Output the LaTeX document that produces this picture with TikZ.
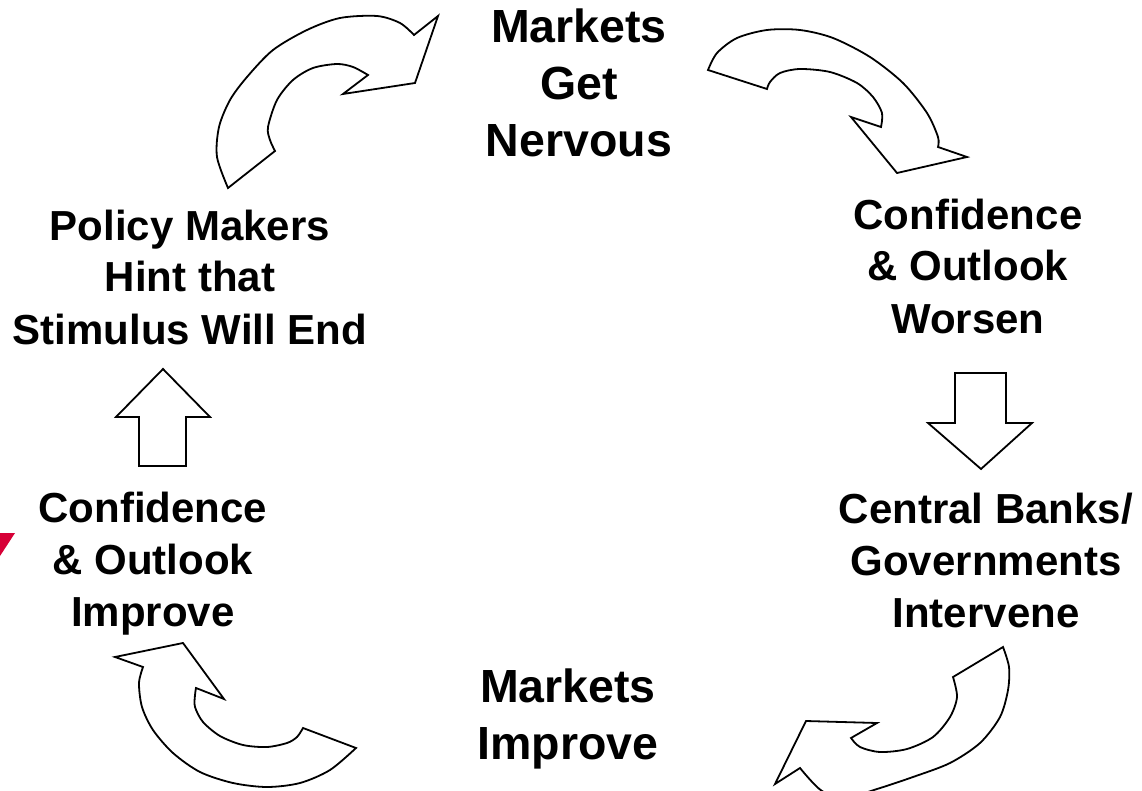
\documentclass[tikz,border=0pt]{standalone}
\usepackage{fontspec}
\setmainfont{Liberation Sans}
\usetikzlibrary{positioning}
\definecolor{deckred}{RGB}{215,0,55}

\begin{document}
\begin{tikzpicture}
     [x=1pt,y=-1pt,
      stage/.style={align=center,inner sep=0pt,anchor=base,
        font=\bfseries\fontsize{42}{52}\selectfont},
      bigstage/.style={stage,font=\bfseries\fontsize{46.5}{57}\selectfont},
      block/.style={draw=black,line width=1.8pt,line join=miter,fill=white}]
   \clip (0,0) rectangle (1142,791);
   \fill[white] (0,0) rectangle (1142,791);
   % the six stages of the cycle (placed at the baseline of the last line)
   \node (NERV) [bigstage] at (579,157) {Markets\\Get\\Nervous};
   \node (WORS) [stage] at (968,333) {Confidence\\\& Outlook\\Worsen};
   \node (INTV) [stage] at (986,627) {Central Banks/\\Governments\\Intervene};
   \node (MIMP) [bigstage] at (568,759) {Markets\\Improve};
   \node (CIMP) [stage] at (153,626) {Confidence\\\& Outlook\\Improve};
   \node (HINT) [stage] at (190,344) {Policy Makers\\Hint that\\Stimulus Will End};
   % curved block arrows
   \draw[block] plot[smooth] coordinates {(228,188) (217,157) (219,127) (230,100) (247,77) (273,50) (307,30) (340,18) (377,16) (400,23) (414,35)}
     -- (438,16) -- (415,83) -- (343,94)
     -- plot[smooth] coordinates {(368,75) (353,67) (337,64) (313,68) (293,80) (277,100) (268,127) (270,140) (275,151)} -- cycle;
   \draw[block] plot[smooth] coordinates {(708,70) (717,53) (737,38) (767,30) (800,30) (833,38) (870,57) (903,83) (927,113) (938,137) (938,147)}
     -- (967,157) -- (897,173) -- (851,117)
     -- plot[smooth] coordinates {(881,127) (882,113) (873,97) (857,83) (830,72) (800,69) (780,73) (770,82) (767,89)} -- cycle;
   \draw[block] plot[smooth] coordinates {(1003,647) (1009,667) (1008,690) (1000,717) (980,743) (950,763) (913,777) (877,789) (848,797) (822,791) (800,768)}
     -- (775,784) -- (806,721) -- (877,723)
     -- plot[smooth] coordinates {(851,738) (860,747) (880,752) (907,749) (933,737) (950,717) (957,697) (953,677)} -- cycle;
   \draw[block] plot[smooth] coordinates {(356,748) (330,770) (300,783) (267,787) (233,783) (200,772) (173,753) (153,730) (142,707) (139,683) (143,667)}
     -- (115,657) -- (183,643) -- (224,699)
     -- plot[smooth] coordinates {(196,688) (195,695) (195,707) (203,722) (220,736) (243,745) (267,747) (287,743) (297,737) (303,728)} -- cycle;
   % straight block arrows
   \draw[block] (981,469) -- (1032,423) -- (1006,423) -- (1006,373) -- (955,373) -- (955,423) -- (928,423) -- cycle;
   \draw[block] (163,369) -- (210,417) -- (186,417) -- (186,466) -- (139,466) -- (139,417) -- (116,417) -- cycle;
   % corner mark
   \fill[deckred] (0,533) -- (15,533) -- (0,556) -- cycle;
\end{tikzpicture}
\end{document}
